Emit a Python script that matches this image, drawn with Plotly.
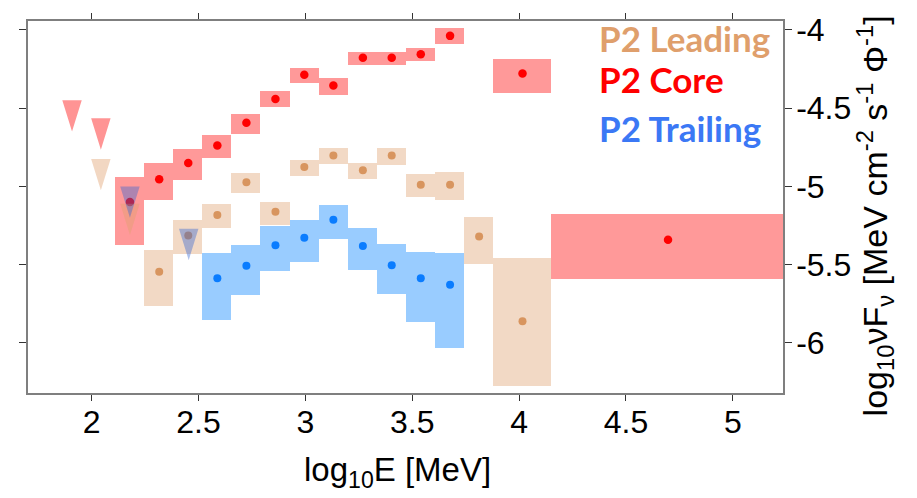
import plotly.graph_objects as go

# ---------------- data (log10 E [MeV], log10 nuF_nu) ----------------
core_x = [2.179, 2.316, 2.452, 2.588, 2.724, 2.860, 2.995, 3.131, 3.269, 3.404, 3.540, 3.677, 4.016, 4.697]
core_y = [-5.099, -4.954, -4.851, -4.738, -4.593, -4.441, -4.286, -4.355, -4.178, -4.178, -4.156, -4.038, -4.279, -5.341]
core_xlo = [2.110, 2.245, 2.382, 2.518, 2.654, 2.789, 2.927, 3.064, 3.199, 3.336, 3.471, 3.607, 3.879, 4.150]
core_xhi = [2.245, 2.382, 2.518, 2.654, 2.789, 2.927, 3.064, 3.199, 3.336, 3.471, 3.607, 3.743, 4.150, 5.300]
core_ylo = [-5.376, -5.086, -4.957, -4.818, -4.662, -4.494, -4.339, -4.414, -4.221, -4.225, -4.200, -4.088, -4.404, -5.593]
core_yhi = [-4.938, -4.851, -4.763, -4.669, -4.538, -4.393, -4.241, -4.307, -4.139, -4.143, -4.113, -3.989, -4.183, -5.179]

lead_x = [2.316, 2.452, 2.588, 2.724, 2.860, 2.995, 3.131, 3.269, 3.404, 3.540, 3.677, 3.813, 4.016]
lead_y = [-5.545, -5.314, -5.183, -4.973, -5.162, -4.876, -4.803, -4.897, -4.803, -4.990, -4.990, -5.320, -5.862]
lead_xlo = [2.245, 2.382, 2.518, 2.654, 2.789, 2.927, 3.064, 3.199, 3.336, 3.471, 3.607, 3.743, 3.879]
lead_xhi = [2.382, 2.518, 2.654, 2.789, 2.927, 3.064, 3.199, 3.336, 3.471, 3.607, 3.743, 3.879, 4.150]
lead_ylo = [-5.761, -5.433, -5.265, -5.040, -5.244, -4.935, -4.859, -4.952, -4.862, -5.067, -5.086, -5.496, -6.274]
lead_yhi = [-5.408, -5.213, -5.114, -4.914, -5.099, -4.830, -4.755, -4.851, -4.755, -4.922, -4.910, -5.198, -5.455]

trail_x = [2.588, 2.724, 2.860, 2.995, 3.131, 3.269, 3.404, 3.540, 3.677]
trail_y = [-5.587, -5.507, -5.376, -5.328, -5.213, -5.381, -5.503, -5.587, -5.629]
trail_xlo = [2.518, 2.654, 2.789, 2.927, 3.064, 3.199, 3.336, 3.471, 3.607]
trail_xhi = [2.654, 2.789, 2.927, 3.064, 3.199, 3.336, 3.471, 3.607, 3.743]
trail_ylo = [-5.854, -5.696, -5.538, -5.480, -5.339, -5.534, -5.690, -5.866, -6.030]
trail_yhi = [-5.423, -5.375, -5.255, -5.213, -5.116, -5.267, -5.368, -5.419, -5.423]

# upper limits (triangle centres)
core_ul_x = [1.908, 2.043]
core_ul_y = [-4.549, -4.665]
lead_ul_x = [2.043, 2.179]
lead_ul_y = [-4.925, -5.211]
trail_ul_x = [2.179, 2.454]
trail_ul_y = [-5.100, -5.371]

x_ticks = [2, 2.5, 3, 3.5, 4, 4.5, 5]
y_ticks = [-6, -5.5, -5, -4.5, -4]
legend_labels = ["P2 Leading", "P2 Core", "P2 Trailing"]

# ---------------- styles ----------------
C_CORE = "#ff0000"
C_LEAD = "#d8955f"
C_TRAIL = "#0a7cff"
BOX_CORE = "rgba(255,0,0,0.40)"
BOX_LEAD = "rgba(223,160,110,0.40)"
BOX_TRAIL = "rgba(0,128,255,0.40)"
TRI_CORE = "rgba(255,0,0,0.42)"
TRI_LEAD = "rgba(223,160,110,0.42)"
TRI_TRAIL = "rgba(50,100,210,0.40)"
TRI_HW = 0.0455   # half width in data units
TRI_H = 0.20      # height in data units

fig = go.Figure()


def add_boxes(xlo, xhi, ylo, yhi, color):
    fig.add_trace(go.Bar(
        x=[(a + b) / 2 for a, b in zip(xlo, xhi)],
        width=[b - a for a, b in zip(xlo, xhi)],
        base=ylo,
        y=[b - a for a, b in zip(ylo, yhi)],
        marker=dict(color=color, line=dict(width=0)),
        showlegend=False, hoverinfo="skip"))


def add_points(x, y, color, size):
    fig.add_trace(go.Scatter(x=x, y=y, mode="markers",
                             marker=dict(color=color, size=size, line=dict(width=0)),
                             showlegend=False))


def add_tris(x, y, color):
    xs, ys = [], []
    for xc, yc in zip(x, y):
        xs += [xc - TRI_HW, xc + TRI_HW, xc, xc - TRI_HW, None]
        ys += [yc + TRI_H / 2, yc + TRI_H / 2, yc - TRI_H / 2, yc + TRI_H / 2, None]
    fig.add_trace(go.Scatter(x=xs, y=ys, mode="lines", fill="toself",
                             fillcolor=color, line=dict(width=0, color=color),
                             showlegend=False, hoverinfo="skip"))


add_boxes(lead_xlo, lead_xhi, lead_ylo, lead_yhi, BOX_LEAD)
add_boxes(core_xlo, core_xhi, core_ylo, core_yhi, BOX_CORE)
add_boxes(trail_xlo, trail_xhi, trail_ylo, trail_yhi, BOX_TRAIL)

add_points(lead_x, lead_y, C_LEAD, 8)
add_points(core_x, core_y, C_CORE, 8.5)
add_points(trail_x, trail_y, C_TRAIL, 8)

add_tris(core_ul_x, core_ul_y, TRI_CORE)
add_tris(lead_ul_x, lead_ul_y, TRI_LEAD)
add_tris(trail_ul_x, trail_ul_y, TRI_TRAIL)

TICKFONT = dict(family="Liberation Sans, Arial, sans-serif", size=32, color="black")
AXCOL = "#7f7f7f"

fig.update_layout(
    width=917, height=498,
    margin=dict(l=28, r=134, t=16, b=105),
    paper_bgcolor="white", plot_bgcolor="white",
    barmode="overlay", bargap=0,
    showlegend=False,
    xaxis=dict(range=[1.702, 5.235], tickvals=x_ticks,
               ticktext=[f"{v:g}" for v in x_ticks],
               ticks="outside", ticklen=6, tickwidth=1.2, tickcolor="#333",
               ticklabelstandoff=-6,
               showline=True, linecolor=AXCOL, linewidth=1.5, mirror="ticks",
               showgrid=False, zeroline=False, tickfont=TICKFONT),
    yaxis=dict(range=[-6.32, -3.943], tickvals=y_ticks,
               ticktext=[f"{v:g}" for v in y_ticks], side="right",
               ticks="outside", ticklen=7, tickwidth=1.2, tickcolor="#333",
               ticklabelstandoff=-2,
               showline=True, linecolor=AXCOL, linewidth=1.5, mirror="ticks",
               showgrid=False, zeroline=False, tickfont=TICKFONT),
)

annotations = [
    dict(text="log<sub>10</sub>E [MeV]", xref="paper", yref="paper",
         x=0.490, y=-0.150, xanchor="center", yanchor="top", showarrow=False,
         font=dict(family="Liberation Sans, Arial, sans-serif", size=33, color="black")),
    dict(text="log<sub>10</sub>νF<sub>ν</sub> [MeV cm<sup>-2</sup> s<sup>-1</sup> Φ<sup>-1</sup>]",
         xref="paper", yref="paper", x=1.122, y=0.475, textangle=-90,
         xanchor="center", yanchor="middle", showarrow=False,
         font=dict(family="Liberation Sans, Arial, sans-serif", size=34, color="black")),
]
legend_colors = ["#df9f6c", "#ff0000", "#3b78f5"]
legend_y = [0.953, 0.844, 0.713]
for lab, col, yy in zip(legend_labels, legend_colors, legend_y):
    annotations.append(dict(text=f"<b>{lab}</b>", xref="paper", yref="paper",
                            x=0.7536, y=yy, xanchor="left", yanchor="middle",
                            showarrow=False,
                            font=dict(family="Lato, Carlito, sans-serif", size=35, color=col)))
fig.update_layout(annotations=annotations)

fig.write_html("out.html")
